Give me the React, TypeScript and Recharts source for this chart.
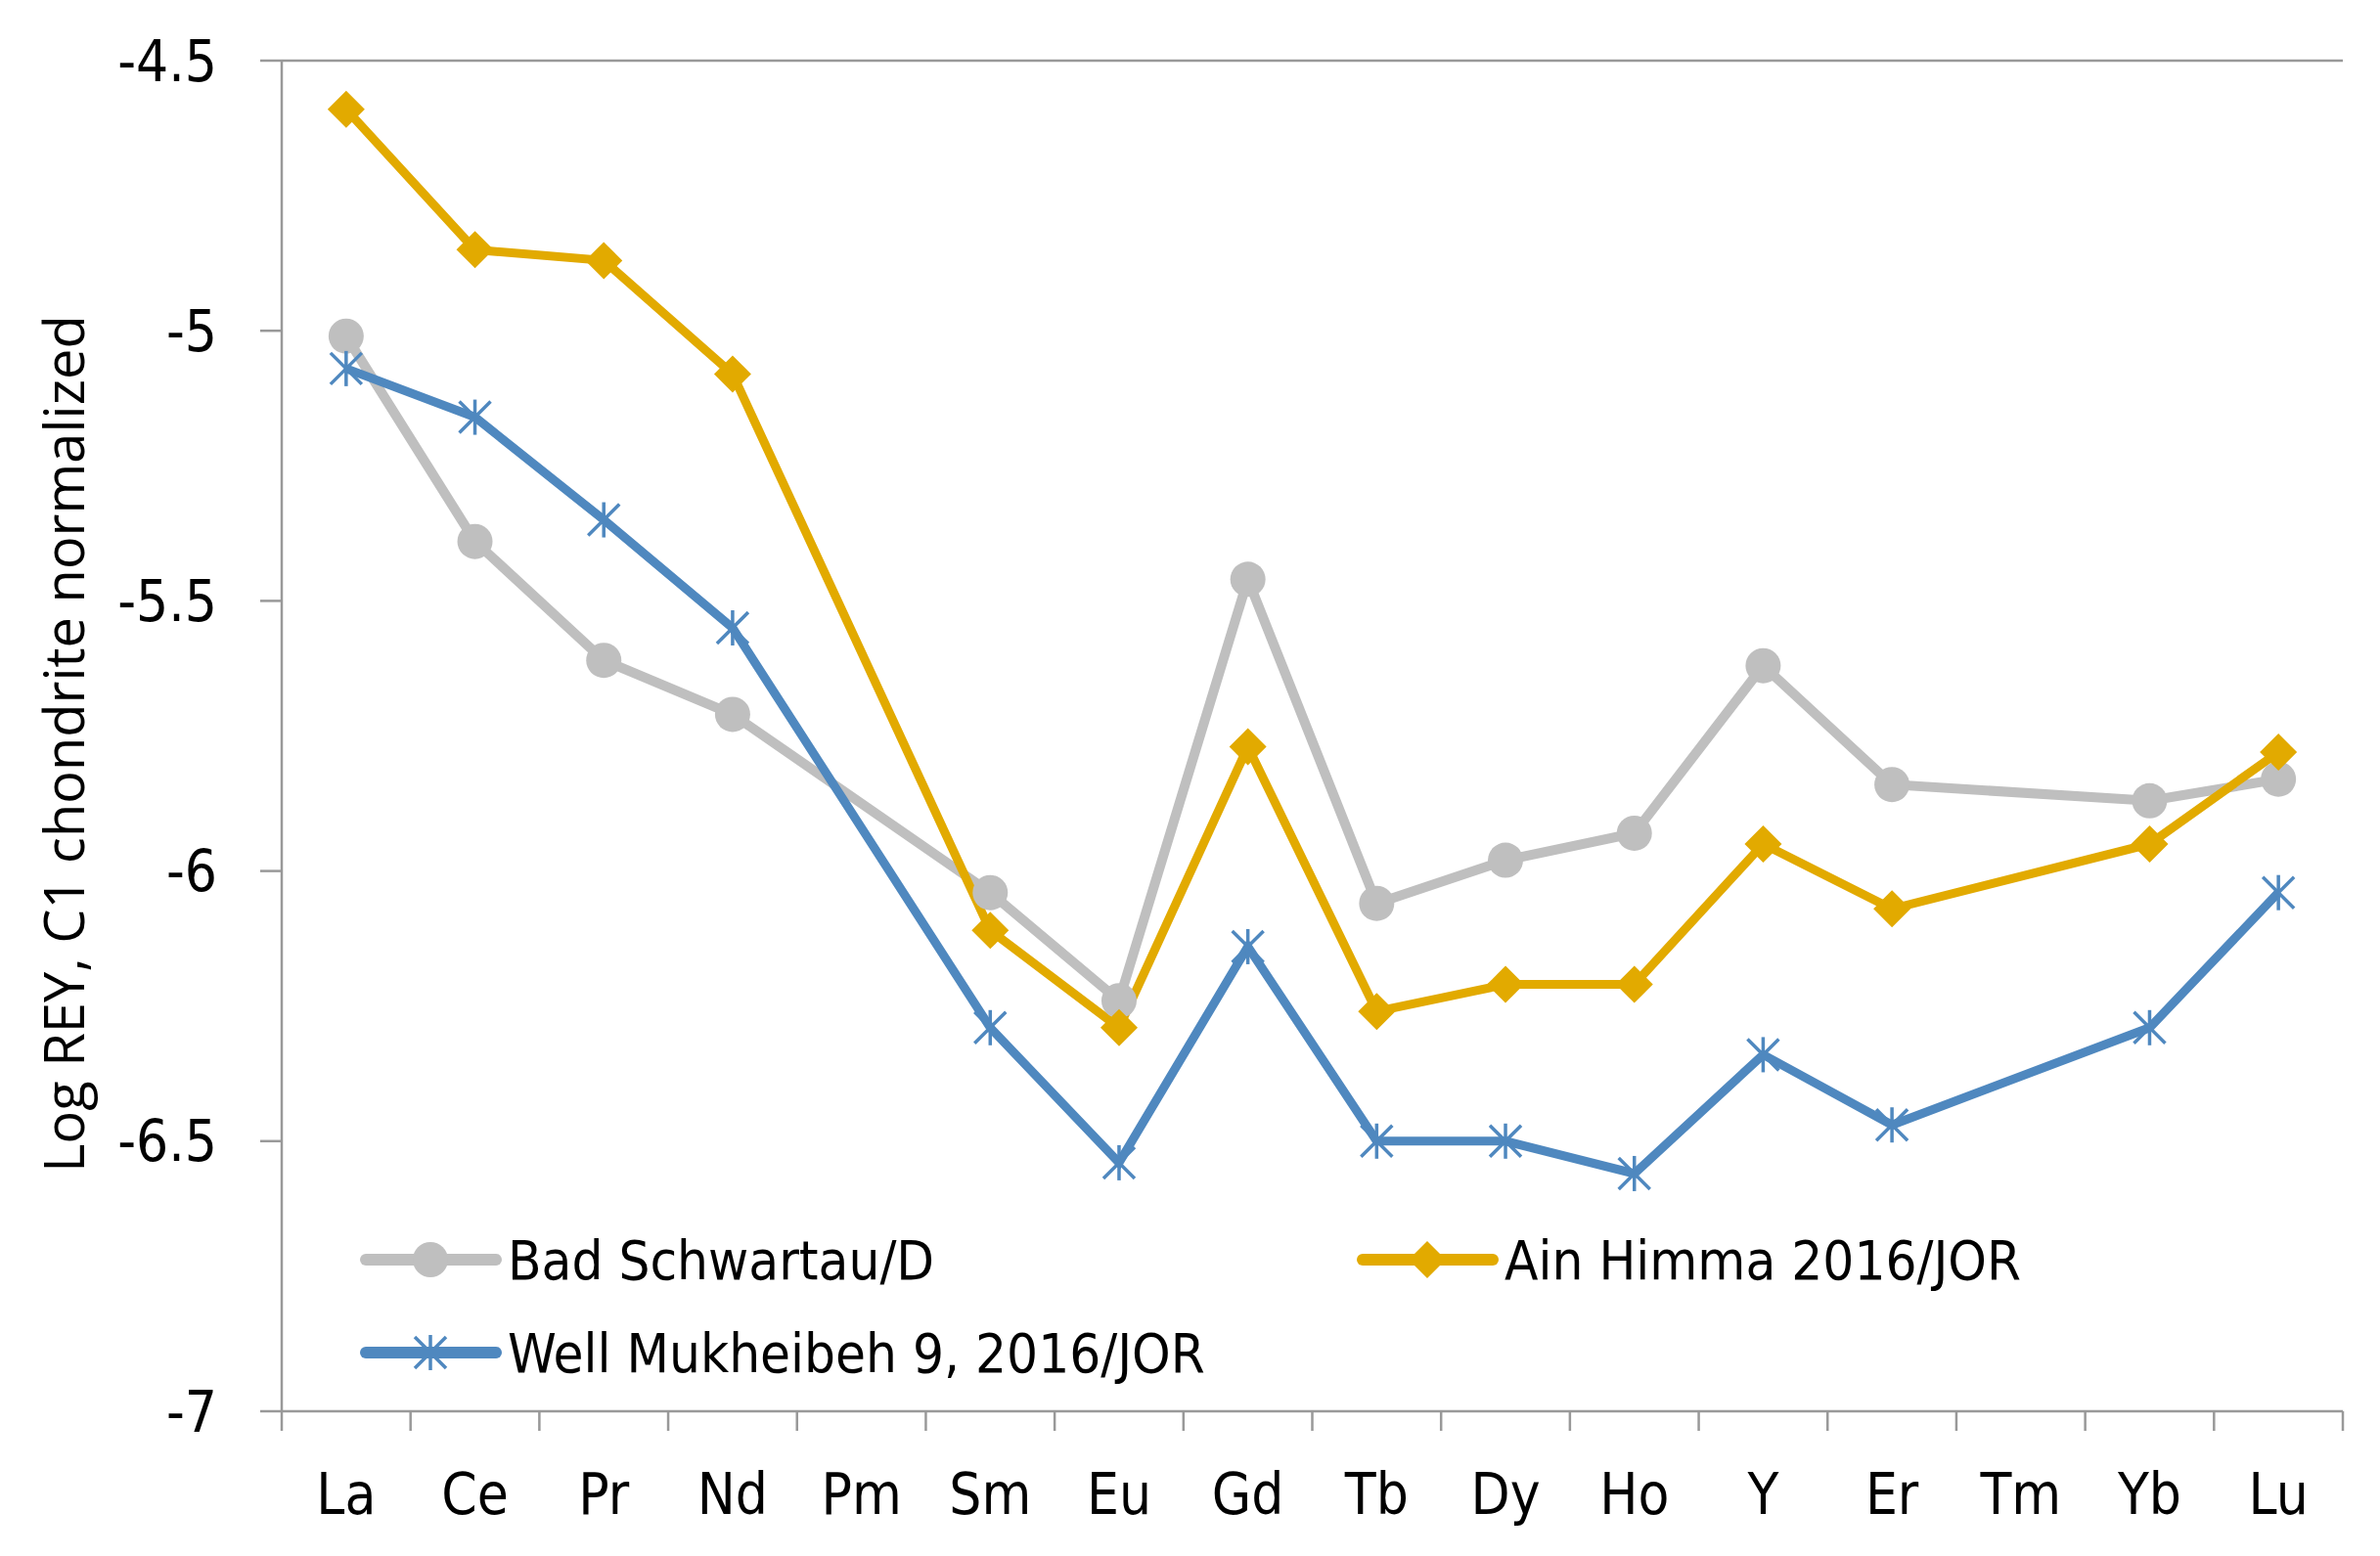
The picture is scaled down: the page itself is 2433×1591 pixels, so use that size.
import { LineChart, Line, XAxis, YAxis, ReferenceLine } from 'recharts'

const elements = ['La', 'Ce', 'Pr', 'Nd', 'Pm', 'Sm', 'Eu', 'Gd', 'Tb', 'Dy', 'Ho', 'Y', 'Er', 'Tm', 'Yb', 'Lu']
const badSchwartau = [-5.01, -5.39, -5.61, -5.71, null, -6.04, -6.24, -5.46, -6.06, -5.98, -5.93, -5.62, -5.84, null, -5.87, -5.83]
const ainHimma = [-4.59, -4.85, -4.87, -5.08, null, -6.11, -6.29, -5.77, -6.26, -6.21, -6.21, -5.95, -6.07, null, -5.95, -5.78]
const wellMukheibeh = [-5.07, -5.16, -5.35, -5.55, null, -6.29, -6.54, -6.14, -6.5, -6.5, -6.56, -6.34, -6.47, null, -6.29, -6.04]
const yTicks = [-7, -6.5, -6, -5.5, -5, -4.5]

const GRAY = '#BFBFBF'
const GOLD = '#E2AA00'
const BLUE = '#4F88BF'
const AXIS = '#999999'
const FONT = "'Liberation Sans Narrow', 'DejaVu Sans Condensed', 'Arial Narrow', sans-serif"

const data = elements.map((el, i) => ({
  el,
  bad: badSchwartau[i],
  ain: ainHimma[i],
  well: wellMukheibeh[i],
}))

const W = 2425
const H = 1583
const MARGIN = { top: 54, right: 38, left: 0, bottom: 28 }
const Y_WIDTH = 280
const STEP = (W - Y_WIDTH - MARGIN.left - MARGIN.right) / elements.length
const TICK_GAP = 64

function CircleDot(props: any) {
  const { cx, cy } = props
  if (cy == null || cx == null) return null
  return <circle key={props.index} cx={cx} cy={cy} r={18} fill={GRAY} />
}

function DiamondDot(props: any) {
  const { cx, cy } = props
  if (cy == null || cx == null) return null
  const s = 19
  return (
    <polygon
      key={props.index}
      points={`${cx},${cy - s} ${cx + s},${cy} ${cx},${cy + s} ${cx - s},${cy}`}
      fill={GOLD}
    />
  )
}

function StarDot(props: any) {
  const { cx, cy } = props
  if (cy == null || cx == null) return null
  const s = 18
  const d = 16
  return (
    <g key={props.index} stroke={BLUE} strokeWidth={3.5}>
      <line x1={cx} y1={cy - s} x2={cx} y2={cy + s} />
      <line x1={cx - d} y1={cy - d} x2={cx + d} y2={cy + d} />
      <line x1={cx - d} y1={cy + d} x2={cx + d} y2={cy - d} />
    </g>
  )
}

// category label in the middle, tick marks on the category boundaries
function ElementTick(props: any) {
  const { x, y, payload, index } = props
  const top = y - TICK_GAP
  const last = index === elements.length - 1
  return (
    <g>
      <line x1={x - STEP / 2} y1={top} x2={x - STEP / 2} y2={top + 20} stroke={AXIS} strokeWidth={2.5} />
      {last && <line x1={x + STEP / 2} y1={top} x2={x + STEP / 2} y2={top + 20} stroke={AXIS} strokeWidth={2.5} />}
      <text x={x} y={y} dy="0.71em" textAnchor="middle" fontSize={58} fontFamily={FONT} fill="#000">
        {payload.value}
      </text>
    </g>
  )
}

const legendItems = [
  { name: 'Bad Schwartau/D', color: GRAY, Dot: CircleDot, x: 366, y: 1280 },
  { name: 'Ain Himma 2016/JOR', color: GOLD, Dot: DiamondDot, x: 1385, y: 1280 },
  { name: 'Well Mukheibeh 9, 2016/JOR', color: BLUE, Dot: StarDot, x: 366, y: 1375 },
]

function YLabel(props: any) {
  const { viewBox } = props
  const cy = viewBox.y + viewBox.height / 2 + 8
  const cx = 56
  return (
    <text
      x={cx}
      y={cy}
      transform={`rotate(-90, ${cx}, ${cy})`}
      textAnchor="middle"
      dominantBaseline="central"
      fontFamily="'Open Sans', 'DejaVu Sans', sans-serif"
      fontSize={56}
      fill="#000"
    >
      Log REY, C1 chondrite normalized
    </text>
  )
}

export default function App() {
  return (
    <div style={{ position: 'relative', width: W, height: H, background: '#fff' }}>
      <LineChart width={W} height={H} data={data} margin={MARGIN}>
        <XAxis
          dataKey="el"
          scale="band"
          height={120}
          stroke={AXIS}
          strokeWidth={2.5}
          tickLine={false}
          tickSize={0}
          tickMargin={TICK_GAP}
          interval={0}
          tick={<ElementTick />}
        />
        <YAxis
          domain={[-7, -4.5]}
          ticks={yTicks}
          width={Y_WIDTH}
          tickSize={22}
          tickMargin={44}
          stroke={AXIS}
          strokeWidth={2.5}
          tick={{ fontSize: 58, fill: '#000', fontFamily: FONT }}
          label={<YLabel />}
        />
        <YAxis
          yAxisId="right"
          orientation="right"
          width={0}
          tick={false}
          tickLine={false}
          stroke={AXIS}
          strokeWidth={2.5}
        />
        <ReferenceLine y={-4.5} stroke={AXIS} strokeWidth={2.5} />
        <Line
          dataKey="bad"
          name="Bad Schwartau/D"
          stroke={GRAY}
          strokeWidth={10}
          connectNulls
          dot={<CircleDot />}
          activeDot={false}
          isAnimationActive={false}
        />
        <Line
          dataKey="ain"
          name="Ain Himma 2016/JOR"
          stroke={GOLD}
          strokeWidth={9}
          connectNulls
          dot={<DiamondDot />}
          activeDot={false}
          isAnimationActive={false}
        />
        <Line
          dataKey="well"
          name="Well Mukheibeh 9, 2016/JOR"
          stroke={BLUE}
          strokeWidth={9}
          connectNulls
          dot={<StarDot />}
          activeDot={false}
          isAnimationActive={false}
        />
      </LineChart>
      <svg width={W} height={H} style={{ position: 'absolute', left: 0, top: 0, pointerEvents: 'none' }}>
        {legendItems.map((it) => (
          <g key={it.name}>
            <line x1={it.x} y1={it.y} x2={it.x + 133} y2={it.y} stroke={it.color} strokeWidth={12} strokeLinecap="round" />
            <it.Dot cx={it.x + 66} cy={it.y} index={0} />
            <text x={it.x + 145} y={it.y} dominantBaseline="central" fontSize={56} fontFamily={FONT} fill="#000">
              {it.name}
            </text>
          </g>
        ))}
      </svg>
    </div>
  )
}
